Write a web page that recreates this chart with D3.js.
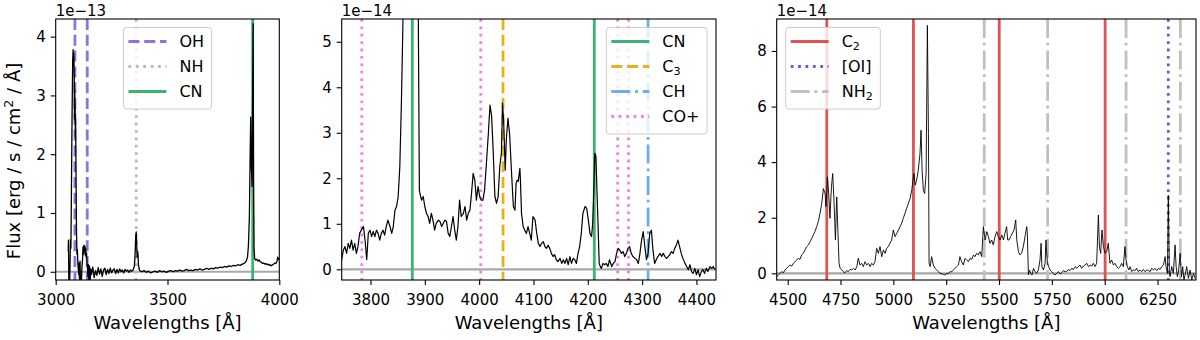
<!DOCTYPE html>
<html>
<head>
<meta charset="utf-8">
<script src="https://cdn.jsdelivr.net/npm/d3@7"></script>
<style>
  body { margin: 0; background: #fff; }
  text { font-family: "DejaVu Sans", sans-serif; fill: #000; }
</style>
</head>
<body>
<div id="chart"></div>
<script>
var svgWidth = 1200;
var svgHeight = 340;

// ---- spectra (flux in units of the offset shown above each panel) ----
var p1Wave = [3056,3057,3058,3059,3062,3064,3066,3068,3070,3073,3076,3078,3080,3081,3083,3084,3085,3087,3088,3089,
  3091,3093,3095,3097,3099,3101,3103,3105,3107,3109,3111,3114,3117,3120,3122,3124,3126,3128,3130,3132,
  3134,3136,3138,3140,3142,3144,3146,3148,3151,3154,3157,3160,3166,3172,3178,3184,3190,3196,3202,3208,
  3214,3220,3226,3232,3238,3244,3250,3256,3262,3268,3274,3280,3286,3292,3298,3304,3310,3316,3322,3328,
  3334,3340,3346,3352,3355,3358,
  3360,3362,3364,3366,3368,3370,3373,3376,3385,3395,3405,3415,3425,3435,3445,3455,3465,3475,3485,3495,
  3505,3515,3525,3535,3545,3555,3565,3575,3585,3595,3605,3615,3625,3635,3645,3655,3665,3675,3685,3695,
  3705,3715,3725,3735,3745,3755,3765,3775,3785,3795,3805,3815,3825,3835,3845,3852,3858,3862,3866,3869,
  3872,3875,3878,3881,3883,3885,3887,3890,3895,3900,3905,3910,3915,3920,3925,3930,3935,3940,3945,3950,
  3955,3960,3965,3970,3975,3980,3985,3990,3993,3996,4000];
var p1Flux = [0.35,0.54,0.2,-0.25,-0.3,0.1,0.55,0.4,1.2,2.6,3.6,3.78,3.5,3.72,3.3,2.6,3.1,2.75,2.3,2.6,
  1.6,0.7,0.3,0.38,0.15,0.05,-0.05,0.15,-0.25,0.18,-0.3,-0.3,0.05,0.2,0.42,0.3,0.45,0.35,0.44,0.28,
  0.4,0.25,0.32,0.15,0.08,-0.08,0.12,-0.15,0.1,-0.18,0.05,-0.05,0.08,-0.1,0.02,-0.06,0.07,-0.04,0.05,-0.08,
  0.03,0.06,-0.05,0.04,-0.03,0.06,-0.02,0.03,0.05,-0.03,0.04,-0.02,0.05,0.0,0.03,-0.02,0.04,0.01,0.03,-0.01,
  0.03,0.01,0.03,0.1,0.3,0.6,
  0.68,0.52,0.25,0.35,0.3,0.12,0.05,0.02,0.0,0.02,-0.01,0.01,-0.02,0.0,0.01,-0.01,0.02,0.0,0.01,-0.01,
  0.01,0.02,0.0,0.02,0.01,0.03,0.01,0.02,0.04,0.02,0.03,0.02,0.04,0.03,0.05,0.03,0.04,0.06,0.04,0.06,
  0.05,0.07,0.06,0.08,0.07,0.09,0.08,0.1,0.09,0.11,0.1,0.12,0.11,0.13,0.15,0.18,0.25,0.45,0.9,1.8,
  2.63,1.8,1.45,3.2,4.22,1.5,0.4,0.22,0.2,0.21,0.18,0.2,0.17,0.16,0.14,0.15,0.13,0.14,0.12,0.13,
  0.11,0.12,0.1,0.12,0.13,0.15,0.14,0.18,0.25,0.22,0.2];

var p2Wave = [3747,3750,3753,3756,3759,3762,3765,3768,3771,3774,3777,3780,3783,3787,3790,3793,3796,3799,3802,3805,
  3808,3811,3814,3817,3820,3823,3826,3829,3832,3836,3839,3842,3845,3848,3851,3854,3857,3860,3866,3872,
  3878,3884,3888,3890,3891,3894,3897,3900,3903,3906,3909,3912,3915,3918,3921,3925,3928,3931,3934,3937,
  3940,3943,3946,3949,3952,3955,3958,3961,3964,3967,3971,3974,3977,3980,3983,3986,3989,3992,3995,3998,
  4001,4004,4007,4010,4013,4017,4020,4023,4026,4029,4032,4035,4038,4041,4043,4045,4048,4050,4053,4056,
  4060,4063,4066,4068,4070,4072,4075,4076,4078,4081,4084,4087,4090,4093,4096,4099,4103,4106,4109,4112,
  4115,4118,4121,4124,4127,4130,4133,4136,4139,4142,4145,4149,4152,4155,4158,4161,4164,4167,4170,4173,
  4176,4179,4182,4185,4188,4191,4195,4198,4201,4204,4207,4209,4211,4213,4215,4217,4219,4221,4223,4225,
  4228,4231,4234,4237,4240,4244,4247,4250,4253,4256,4259,4262,4265,4268,4271,4274,4277,4280,4283,4287,
  4290,4293,4296,4299,4302,4305,4308,4311,4314,4317,4320,4323,4326,4329,4333,4336,4339,4342,4345,4348,
  4351,4354,4357,4360,4363,4366,4369,4372,4375,4379,4382,4385,4388,4391,4394,4397,4400,4403,4406,4409,
  4412,4415,4418,4421,4425,4428,4431,4434];
var p2Flux = [0.21,0.42,0.5,0.35,0.57,0.46,0.64,0.42,0.57,0.35,0.5,0.79,0.86,0.94,0.64,0.21,0.79,0.86,0.72,0.83,
  0.72,0.86,0.79,0.64,0.79,0.86,0.75,0.94,1.08,0.94,0.79,0.94,1.3,1.38,1.6,2.26,3.72,5.6,14,30,
  40,20,5.6,1.74,1.67,1.52,1.6,1.38,1.23,1.16,1.01,1.23,1.08,0.86,1.01,1.08,1.05,0.94,1.01,1.08,
  1.05,0.79,0.72,0.94,1.16,0.86,0.64,0.94,1.52,1.16,1.23,1.38,1.08,1.23,1.3,1.67,2.11,1.96,1.52,1.82,
  1.6,1.52,1.52,1.74,2.26,2.99,3.61,3.36,2.55,1.6,1.45,1.6,2.26,2.55,3.65,3.28,2.18,2.84,3.32,2.99,
  2.04,1.38,1.3,1.89,1.96,1.93,2.22,1.96,1.23,0.94,0.86,0.79,0.94,0.79,0.64,1.16,1.08,0.79,0.57,0.5,
  0.57,0.61,0.5,0.46,0.53,0.46,0.35,0.28,0.32,0.21,0.17,0.24,0.13,0.21,0.13,0.24,0.1,0.28,0.13,0.24,
  0.21,0.13,0.35,0.5,0.79,1.23,1.38,1.34,1.08,0.79,0.72,1.01,1.74,2.55,2.48,1.67,0.94,0.13,0.06,0.02,
  0.13,0.1,0.13,0.06,0.21,0.06,0.13,0.17,0.35,0.46,0.42,0.35,0.39,0.28,0.35,0.46,0.5,0.35,0.28,0.24,
  0.21,0.13,0.35,0.64,0.83,0.5,0.21,0.35,0.79,0.86,0.42,0.13,0.21,0.28,0.35,0.28,0.35,0.28,0.24,0.28,
  0.32,0.39,0.35,0.46,0.53,0.64,0.5,0.35,0.24,0.13,0.06,-0.01,0.1,-0.05,-0.09,0.02,-0.12,-0.01,-0.16,-0.05,
  -0.01,-0.09,0.02,-0.05,0.06,0.02,0.06,-0.01];

var p3Wave = [4448,4456,4464,4472,4480,4487,4495,4503,4511,4519,4527,4535,4543,4550,4558,4566,4574,4582,4590,4598,
  4606,4614,4621,4629,4637,4645,4653,4661,4669,4677,4681,4688,4694,4700,4707,4713,4719,4726,4732,4738,
  4743,4748,4756,4763,4771,4779,4787,4795,4803,4811,4819,4827,4834,4842,4850,4858,4866,4874,4882,4890,
  4897,4905,4913,4921,4929,4937,4945,4953,4961,4968,4976,4984,4992,5000,5008,5016,5024,5032,5039,5047,
  5055,5063,5071,5079,5087,5095,5098,5103,5110,5118,5126,5131,5136,5142,5148,5155,5161,5166,5169,5174,
  5181,5189,5197,5205,5213,5221,5229,5237,5245,5252,5260,5268,5276,5284,5292,5300,5308,5315,5323,5331,
  5339,5347,5355,5363,5371,5379,5386,5394,5402,5410,5418,5426,5434,5442,5450,5457,5465,5473,5481,5489,
  5497,5505,5513,5521,5528,5536,5541,5547,5555,5563,5571,5579,5584,5592,5599,5607,5615,5623,5631,5634,
  5639,5644,5650,5656,5663,5670,5678,5686,5694,5699,5703,5710,5718,5722,5729,5735,5741,5749,5757,5765,
  5773,5781,5789,5797,5804,5812,5820,5828,5836,5844,5852,5860,5868,5875,5883,5891,5899,5907,5915,5923,
  5931,5939,5946,5954,5962,5970,5975,5981,5987,5994,6002,6010,6017,6025,6033,6041,6049,6057,6065,6073,
  6080,6088,6096,6101,6107,6114,6120,6128,6136,6144,6151,6159,6167,6175,6183,6191,6199,6207,6215,6222,
  6230,6238,6246,6254,6262,6270,6278,6286,6290,6297,6301,6306,6309,6317,6325,6333,6338,6344,6350,6357,
  6363,6369,6375,6382,6388,6396,6404,6412,6420,6428];
var p3Flux = [-0.12,-0.06,0.0,0.06,0.02,0.12,0.18,0.24,0.3,0.26,0.36,0.42,0.48,0.54,0.5,0.66,0.72,0.84,0.96,1.02,
  1.14,1.26,1.38,1.5,1.68,1.86,2.16,2.51,3.05,2.87,2.4,3.47,2.87,1.98,3.11,3.59,2.63,1.2,2.75,1.44,
  0.36,0.18,0.12,0.06,0.02,0.1,0.06,0.14,0.12,0.18,0.12,0.24,0.54,0.3,0.36,0.24,0.42,0.3,0.36,0.24,
  0.36,0.3,0.42,0.9,0.72,0.96,0.6,0.84,0.72,0.9,0.96,1.08,1.2,1.56,1.32,1.44,1.56,1.68,1.8,1.98,
  2.16,2.34,2.51,2.69,2.99,3.47,3.59,3.17,3.35,3.71,4.31,5.15,3.71,2.99,2.87,3.59,8.92,5.03,0.36,0.24,
  0.6,0.3,0.18,0.12,0.06,0.0,-0.02,-0.04,-0.06,0.0,-0.02,0.06,0.06,0.12,0.18,0.24,0.3,0.6,0.42,0.3,
  0.54,0.48,0.42,0.54,0.5,0.66,0.6,0.72,0.66,0.78,0.6,1.68,1.2,1.5,1.32,1.08,1.2,1.02,1.32,1.5,
  1.32,1.2,1.38,1.2,1.44,1.68,1.2,1.2,1.32,1.44,1.56,1.92,1.2,0.78,0.66,0.72,0.96,1.32,1.68,1.44,
  -0.06,0.12,0.0,-0.06,0.18,0.06,0.0,0.12,0.48,1.08,0.24,0.12,0.36,1.2,0.36,0.24,0.12,0.06,0.0,-0.06,
  0.0,0.06,-0.02,0.02,0.1,0.06,0.06,0.14,0.1,0.18,0.14,0.24,0.18,0.24,0.3,0.18,0.26,0.3,0.36,0.24,
  0.3,0.26,0.36,0.24,0.36,2.1,0.96,0.72,1.56,0.96,0.72,0.78,1.08,0.36,0.48,0.3,0.36,0.24,0.18,0.24,
  0.36,0.24,0.96,0.48,0.24,0.12,0.24,0.06,0.12,0.1,0.18,0.06,0.12,0.06,0.14,0.06,0.12,0.1,0.06,0.18,
  0.12,0.18,0.1,0.18,0.14,0.24,0.3,0.6,0.24,0.0,2.81,0.0,-0.12,0.24,0.0,1.02,0.24,-0.12,0.12,0.72,
  -0.12,0.24,-0.24,0.0,0.24,-0.18,0.12,-0.24,0.0,-0.18];

// ---- emission line positions [Å] ----
var ohLines = [3086, 3141];
var nhLines = [3360];
var cnLinesA = [3881];
var cnLinesB = [3877, 4212];
var c3Lines = [4044];
var chLines = [4311];
var coLines = [3784, 4003, 4255, 4275];
var c2Lines = [4685, 5095, 5501, 6002];
var oiLines = [6301];
var nh2Lines = [5430, 5730, 6101, 6358];

// ---- tick labels ----
var p1XTicks = [3000, 3500, 4000];
var p2XTicks = [3800, 3900, 4000, 4100, 4200, 4300, 4400];
var p3XTicks = [4500, 4750, 5000, 5250, 5500, 5750, 6000, 6250];
var p1YTicks = [0, 1, 2, 3, 4];
var p2YTicks = [0, 1, 2, 3, 4, 5];
var p3YTicks = [0, 2, 4, 6, 8];

var dashStyles = {
  solid: null,
  dashed: "11,4.8",
  dotted: "2.8,4.6",
  dashdot: "19,4.8,2.8,4.8"
};

var plotTop = 19;
var plotBottom = 280;

var panels = [
  {
    left: 55.7, right: 279.3, xDomain: [3000, 4000], yDomain: [-0.14, 4.3],
    xTicks: p1XTicks, yTicks: p1YTicks, offset: "1e\u221213",
    wave: p1Wave, flux: p1Flux, specWidth: 1.3, legendLoc: "center",
    lines: [
      { label: "OH", pos: ohLines, color: "#9370db", style: "dashed" },
      { label: "NH", pos: nhLines, color: "#b9b9b9", style: "dotted" },
      { label: "CN", pos: cnLinesA, color: "#3cb371", style: "solid" }
    ]
  },
  {
    left: 341.7, right: 716, xDomain: [3747, 4436], yDomain: [-0.235, 5.5],
    xTicks: p2XTicks, yTicks: p2YTicks, offset: "1e\u221214",
    wave: p2Wave, flux: p2Flux, specWidth: 1.2, legendLoc: "right",
    lines: [
      { label: "CN", pos: cnLinesB, color: "#3cb371", style: "solid" },
      { label: "C", sub: "3", pos: c3Lines, color: "#e2b31f", style: "dashed" },
      { label: "CH", pos: chLines, color: "#6caee6", style: "dashdot" },
      { label: "CO+", pos: coLines, color: "#ee82ee", style: "dotted" }
    ]
  },
  {
    left: 776.7, right: 1196, xDomain: [4448, 6432], yDomain: [-0.24, 9.15],
    xTicks: p3XTicks, yTicks: p3YTicks, offset: "1e\u221214",
    wave: p3Wave, flux: p3Flux, specWidth: 0.9, legendLoc: "left",
    lines: [
      { label: "C", sub: "2", pos: c2Lines, color: "#e05252", style: "solid" },
      { label: "[OI]", pos: oiLines, color: "#6a5acd", style: "dotted" },
      { label: "NH", sub: "2", pos: nh2Lines, color: "#c0c0c0", style: "dashdot" }
    ]
  }
];

var svg = d3.select("#chart")
  .append("svg")
  .attr("width", svgWidth)
  .attr("height", svgHeight);

function addLabel(sel, d) {
  sel.append("tspan").text(d.label);
  if (d.sub) {
    sel.append("tspan")
      .attr("font-size", "70%")
      .attr("baseline-shift", "-25%")
      .text(d.sub);
  }
}

panels.forEach(function(p, i) {
  var x = d3.scaleLinear().domain(p.xDomain).range([p.left, p.right]);
  var y = d3.scaleLinear().domain(p.yDomain).range([plotBottom, plotTop]);
  var g = svg.append("g");

  // clip region = axes box
  var clipId = "clip" + i;
  svg.append("clipPath").attr("id", clipId)
    .append("rect")
    .attr("x", p.left).attr("y", plotTop)
    .attr("width", p.right - p.left).attr("height", plotBottom - plotTop);

  var inner = g.append("g").attr("clip-path", "url(#" + clipId + ")");

  // zero line
  inner.append("line")
    .attr("x1", p.left).attr("x2", p.right)
    .attr("y1", y(0)).attr("y2", y(0))
    .attr("stroke", "#a8a8a8")
    .attr("stroke-width", 2.2);

  // vertical marker lines
  p.lines.forEach(function(l) {
    inner.selectAll(null)
      .data(l.pos)
      .enter()
      .append("line")
      .attr("x1", d => x(d)).attr("x2", d => x(d))
      .attr("y1", plotTop).attr("y2", plotBottom)
      .attr("stroke", l.color)
      .attr("stroke-width", 2.8)
      .attr("stroke-dasharray", dashStyles[l.style]);
  });

  // spectrum
  var specData = p.wave.map((w, k) => [w, p.flux[k]]);
  inner.append("path")
    .datum(specData)
    .attr("fill", "none")
    .attr("stroke", "#000")
    .attr("stroke-width", p.specWidth)
    .attr("stroke-linejoin", "round")
    .attr("d", d3.line().x(d => x(d[0])).y(d => y(d[1])));

  // axes
  var xAxis = g.append("g")
    .attr("transform", `translate(0, ${plotBottom})`)
    .call(d3.axisBottom(x).tickValues(p.xTicks).tickSize(5).tickPadding(9.4).tickFormat(d3.format("d")));
  var yAxis = g.append("g")
    .attr("transform", `translate(${p.left}, 0)`)
    .call(d3.axisLeft(y).tickValues(p.yTicks).tickSize(5).tickPadding(5).tickFormat(d3.format("d")));
  [xAxis, yAxis].forEach(function(a) {
    a.select(".domain").remove();
    a.selectAll(".tick line").attr("stroke", "#000").attr("stroke-width", 1.1);
    a.selectAll(".tick text")
      .attr("font-size", 15)
      .attr("font-family", "DejaVu Sans, sans-serif")
      .attr("fill", "#000");
  });

  // spines
  g.append("rect")
    .attr("x", p.left).attr("y", plotTop)
    .attr("width", p.right - p.left).attr("height", plotBottom - plotTop)
    .attr("fill", "none")
    .attr("stroke", "#000")
    .attr("stroke-width", 1.1);

  // offset text
  g.append("text")
    .attr("x", p.left).attr("y", 16)
    .attr("font-size", 15)
    .text(p.offset);

  // x label
  g.append("text")
    .attr("x", (p.left + p.right) / 2).attr("y", 328.5)
    .attr("text-anchor", "middle")
    .attr("font-size", 18)
    .text("Wavelengths [Å]");

  // legend
  var lg = g.append("g");
  var frame = lg.append("rect");
  var rows = lg.selectAll(null).data(p.lines).enter().append("g");
  var maxW = 0;
  rows.each(function(d, k) {
    var row = d3.select(this);
    var t = row.append("text").attr("font-size", 16).attr("x", 56).attr("y", 14 + 25 * k + 5.8);
    addLabel(t, d);
    maxW = Math.max(maxW, t.node().getComputedTextLength());
    row.append("line")
      .attr("x1", 5).attr("x2", 43)
      .attr("y1", 14 + 25 * k).attr("y2", 14 + 25 * k)
      .attr("stroke", d.color)
      .attr("stroke-width", 2.8)
      .attr("stroke-dasharray", dashStyles[d.style]);
  });
  var boxW = 56 + maxW + 7.5;
  var boxH = 25 * p.lines.length + 6.5;
  frame.attr("width", boxW).attr("height", boxH)
    .attr("rx", 3)
    .attr("fill", "#fff").attr("fill-opacity", 0.8)
    .attr("stroke", "#cccccc").attr("stroke-width", 1);
  var lx;
  if (p.legendLoc === "center") lx = (p.left + p.right) / 2 - boxW / 2;
  else if (p.legendLoc === "right") lx = p.right - 9 - boxW;
  else lx = p.left + 9;
  lg.attr("transform", `translate(${lx}, ${plotTop + 8.5})`);
});

// shared y label
var ylab = svg.append("text")
  .attr("transform", "translate(20, 161) rotate(-90)")
  .attr("text-anchor", "middle")
  .attr("font-size", 18);
ylab.append("tspan").text("Flux [erg / s / cm");
ylab.append("tspan").attr("font-size", "70%").attr("baseline-shift", "super").text("2");
ylab.append("tspan").text(" / Å]");
</script>
</body>
</html>
